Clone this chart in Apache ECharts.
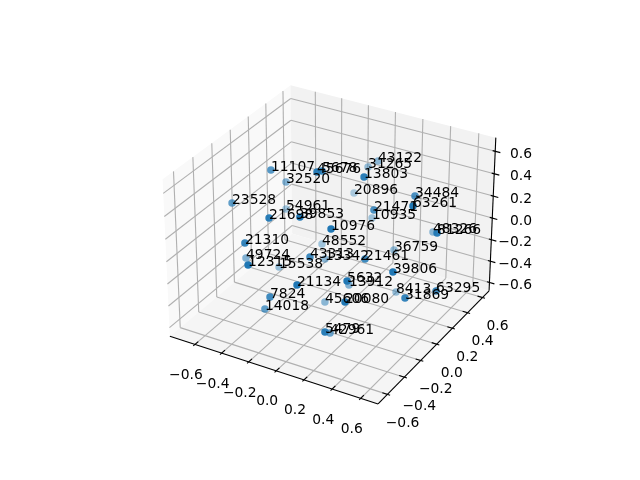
<!DOCTYPE html>
<html>
<head>
<meta charset="utf-8">
<style>html,body{margin:0;padding:0;background:#fff}#chart{width:640px;height:480px}</style>
<script src="https://cdn.jsdelivr.net/npm/echarts@6/dist/echarts.min.js"></script>
</head>
<body>
<div id="chart"></div>
<script>
const labels = ['11107','45676','5678','43122','31265','13803','32520','20896','34484','63261','23528','54961','21698','39853','21471','10935','10976','48326','81266','48552','21310','36759','43313','13342','21461','49724','12315','15538','39806','21134','5632','13912','8413','63295','7824','31869','45606','20080','14018','5479','42961']
const xs = [-0.416,-0.045,-0.049,0.011,-0.063,0.213,-0.437,-0.156,0.433,0.544,-0.607,-0.484,-0.229,-0.037,0.233,0.014,0.146,0.431,0.687,-0.225,-0.350,0.216,-0.010,-0.127,0.289,-0.537,-0.238,-0.399,0.539,0.051,0.310,0.076,0.295,0.720,-0.163,0.590,-0.058,0.331,-0.261,0.243,0.104]
const ys = [-0.111,-0.168,-0.105,0.461,0.463,-0.047,0.087,0.447,0.194,-0.026,-0.262,0.154,-0.418,-0.373,0.041,0.389,-0.315,0.441,0.023,0.171,-0.504,0.325,-0.307,0.050,-0.154,-0.227,-0.638,-0.063,-0.245,-0.548,-0.397,0.009,0.223,-0.029,-0.521,-0.182,-0.061,-0.454,-0.434,-0.540,-0.260]
const zs = [0.553,0.694,0.662,0.422,0.342,0.661,0.317,0.084,0.418,0.510,0.292,0.012,0.392,0.439,0.325,-0.050,0.360,-0.066,0.293,-0.231,0.187,-0.231,0.053,-0.252,0.039,-0.203,0.125,-0.349,0.079,-0.006,0.020,-0.388,-0.521,-0.173,-0.213,-0.177,-0.547,-0.117,-0.422,-0.357,-0.628]
const ticks = [-0.6,-0.4,-0.2,0,0.2,0.4,0.6]

const xlim = [-0.79,0.72], ylim = [-0.71,0.69], zlim = [-0.68,0.72]
const A = 0.5714, C = 0.4286, S = 2088, CX = 332.3, CY = 237.3
const U = [0.866,0.5,0], V = [-0.25,0.433,0.866], W = [0.433,-0.75,0.5]
const dot = (a,b) => a[0]*b[0]+a[1]*b[1]+a[2]*b[2]

// same view as elev 30, azim -60, returns plane x, plane y and depth
function project (x,y,z) {
  const p = [
    ((x-xlim[0])/(xlim[1]-xlim[0])-0.5)*2*A,
    ((y-ylim[0])/(ylim[1]-ylim[0])-0.5)*2*A,
    ((z-zlim[0])/(zlim[1]-zlim[0])-0.5)*2*C
  ]
  const d = 10-dot(p,W)
  return [CX+S*dot(p,U)/d, CY-S*dot(p,V)/d, dot(p,W)]
}

const [x0,x1] = xlim, [y0,y1] = ylim, [z0,z1] = zlim
const panes = [
  {fill:'#f9f9f9', pts:[[x0,y0,z0],[x0,y1,z0],[x0,y1,z1],[x0,y0,z1]]},
  {fill:'#f2f2f2', pts:[[x0,y1,z0],[x1,y1,z0],[x1,y1,z1],[x0,y1,z1]]},
  {fill:'#f5f5f5', pts:[[x0,y0,z0],[x1,y0,z0],[x1,y1,z0],[x0,y1,z0]]}
]
const segs = []
function seg (a,b,color,width) {
  const p = project(...a), q = project(...b)
  segs.push([p[0],p[1],q[0],q[1],color,width])
}
const GRID = '#b0b0b0', tickD = 0.036
ticks.forEach(t => {
  seg([t,y0,z0],[t,y1,z0],GRID,1.1); seg([t,y1,z0],[t,y1,z1],GRID,1.1)
  seg([x1,t,z0],[x0,t,z0],GRID,1.1); seg([x0,t,z0],[x0,t,z1],GRID,1.1)
  seg([x0,y0,t],[x0,y1,t],GRID,1.1); seg([x0,y1,t],[x1,y1,t],GRID,1.1)
})
seg([x0,y0,z0],[x1,y0,z0],'#000',1.1)
seg([x1,y0,z0],[x1,y1,z0],'#000',1.1)
seg([x1,y1,z0],[x1,y1,z1],'#000',1.1)
ticks.forEach(t => {
  seg([t,y0-tickD/2,z0],[t,y0+tickD,z0],'#000',1.1)
  seg([x1+tickD/2,t,z0],[x1-tickD,t,z0],'#000',1.1)
  seg([x1+tickD,y1,t],[x1-tickD/2,y1,t],'#000',1.1)
})
const fmt = t => t.toFixed(1).replace('-','\u2212')
const tickText = []
ticks.forEach(t => {
  const a = project(t,y0,z0), b = project(x1,t,z0), c = project(x1,y1,t)
  tickText.push([a[0]-9,a[1]+31,fmt(t),'center'])
  tickText.push([b[0]+15,b[1]+29,fmt(t),'center'])
  tickText.push([532,c[1]+3,fmt(t),'right'])
})

// far points first and fainter
const points = labels.map((name,i) => {
  const p = project(xs[i],ys[i],zs[i])
  const t = (0.35-p[2])/0.7
  return {name, value:[p[0],p[1]], depth:p[2], itemStyle:{opacity:Math.min(1,1-0.7*t)}}
}).sort((a,b) => a.depth-b.depth)

const FONT = '"DejaVu Sans"'
const chart = echarts.init(document.getElementById('chart'))
chart.setOption({
  animation: false,
  grid: {left:0,right:0,top:0,bottom:0},
  xAxis: {type:'value',min:0,max:640,show:false},
  yAxis: {type:'value',min:0,max:480,inverse:true,show:false},
  series: [
    {
      type:'custom', silent:true, z:1, data:panes.map((p,i) => [i]),
      renderItem (params, api) {
        const pane = panes[api.value(0)]
        return {type:'polygon',shape:{points:pane.pts.map(q => {
          const r = project(...q); return api.coord([r[0],r[1]])
        })},style:{fill:pane.fill}}
      }
    },
    {
      type:'custom', silent:true, z:2, data:segs.map((s,i) => [i]),
      renderItem (params, api) {
        const s = segs[api.value(0)]
        const a = api.coord([s[0],s[1]]), b = api.coord([s[2],s[3]])
        return {type:'line',shape:{x1:a[0],y1:a[1],x2:b[0],y2:b[1]},style:{stroke:s[4],lineWidth:s[5]}}
      }
    },
    {
      type:'custom', silent:true, z:3, data:tickText.map((s,i) => [i]),
      renderItem (params, api) {
        const s = tickText[api.value(0)]
        const a = api.coord([s[0],s[1]])
        return {type:'text',style:{x:a[0],y:a[1],text:s[2],fill:'#000',font:'13.89px '+FONT,align:s[3],verticalAlign:'middle'}}
      }
    },
    {
      type:'scatter', z:4, silent:true, symbolSize:7.5, data:points,
      itemStyle:{color:'#1f77b4'},
      label:{show:true,opacity:1,formatter:'{b}',position:[3.75,8],align:'left',verticalAlign:'bottom',color:'#000',fontFamily:FONT,fontSize:13.89}
    }
  ]
})
</script>
</body>
</html>
